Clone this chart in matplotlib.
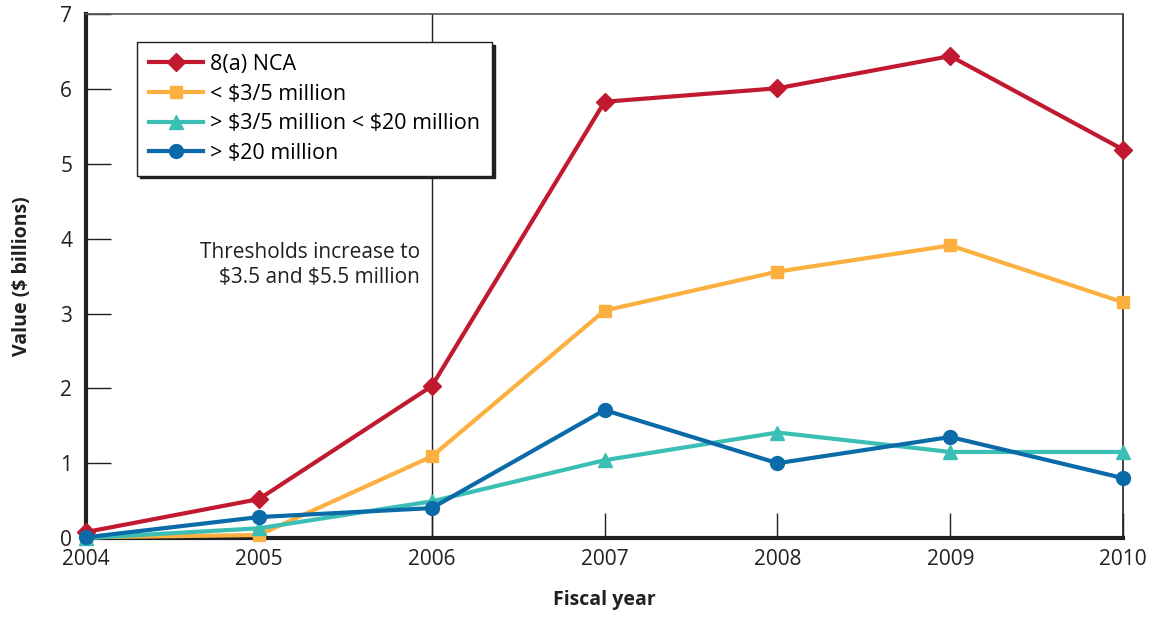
import matplotlib.pyplot as plt

plt.rcParams['font.family'] = ['Open Sans', 'DejaVu Sans']

years = [2004, 2005, 2006, 2007, 2008, 2009, 2010]
nca_8a = [0.08, 0.52, 2.03, 5.83, 6.01, 6.44, 5.19]
under_35 = [0.01, 0.04, 1.09, 3.04, 3.56, 3.91, 3.15]
mid_35_20 = [0.0, 0.13, 0.49, 1.04, 1.41, 1.15, 1.15]
over_20 = [0.01, 0.28, 0.40, 1.71, 1.00, 1.35, 0.80]

labels = ['8(a) NCA', r'< \$3/5 million', r'> \$3/5 million < \$20 million', r'> \$20 million']

fig = plt.figure(figsize=(11.52, 6.17), dpi=100)
ax = fig.add_axes([0.0747, 0.128, 0.9003, 0.849])

ax.plot(years, nca_8a, color='#C1192F', lw=3, marker='D', ms=9, label=labels[0], clip_on=False, zorder=5)
ax.plot(years, under_35, color='#FBB040', lw=3, marker='s', ms=9, label=labels[1], clip_on=False, zorder=4)
ax.plot(years, mid_35_20, color='#3BBFB5', lw=3, marker='^', ms=10, label=labels[2], clip_on=False, zorder=4)
ax.plot(years, over_20, color='#0B6BA8', lw=3, marker='o', ms=10, label=labels[3], clip_on=False, zorder=5)

# threshold change line
ax.axvline(2006, color='#231F20', lw=1, zorder=1)
ax.text(2005.93, 3.95, 'Thresholds increase to\n\\$3.5 and \\$5.5 million', ha='right', va='top',
        fontsize=15, color='#231F20', linespacing=1.2)

ax.set_xlim(2004, 2010)
ax.set_ylim(0, 7)
ax.set_xticks(years)
ax.set_yticks(range(8))
ax.tick_params(axis='both', direction='in', length=18, width=1, colors='#231F20', labelsize=15)
ax.tick_params(axis='x', pad=8)
ax.tick_params(axis='y', pad=10)

ax.spines['left'].set_linewidth(3)
ax.spines['bottom'].set_linewidth(3)
ax.spines['left'].set_color('#231F20')
ax.spines['bottom'].set_color('#231F20')
ax.spines['top'].set_linewidth(1.2)
ax.spines['right'].set_linewidth(1.2)
ax.spines['top'].set_color('#555555')
ax.spines['right'].set_color('#231F20')

ax.set_xlabel('Fiscal year', fontsize=14, fontweight='bold', color='#231F20', labelpad=14)
ax.set_ylabel(r'Value (\$ billions)', fontsize=14, fontweight='bold', color='#231F20', labelpad=20)

leg = ax.legend(loc='upper left', bbox_to_anchor=(0.0492, 0.9466), borderaxespad=0, fontsize=15.5,
                frameon=True, fancybox=False, shadow={'color': '#231F20', 'alpha': 1},
                edgecolor='#231F20', handlelength=2.5, borderpad=0.55, labelspacing=0.4,
                handletextpad=0.35)
leg.get_frame().set_linewidth(1)

fig.savefig('out.png', dpi=100)
